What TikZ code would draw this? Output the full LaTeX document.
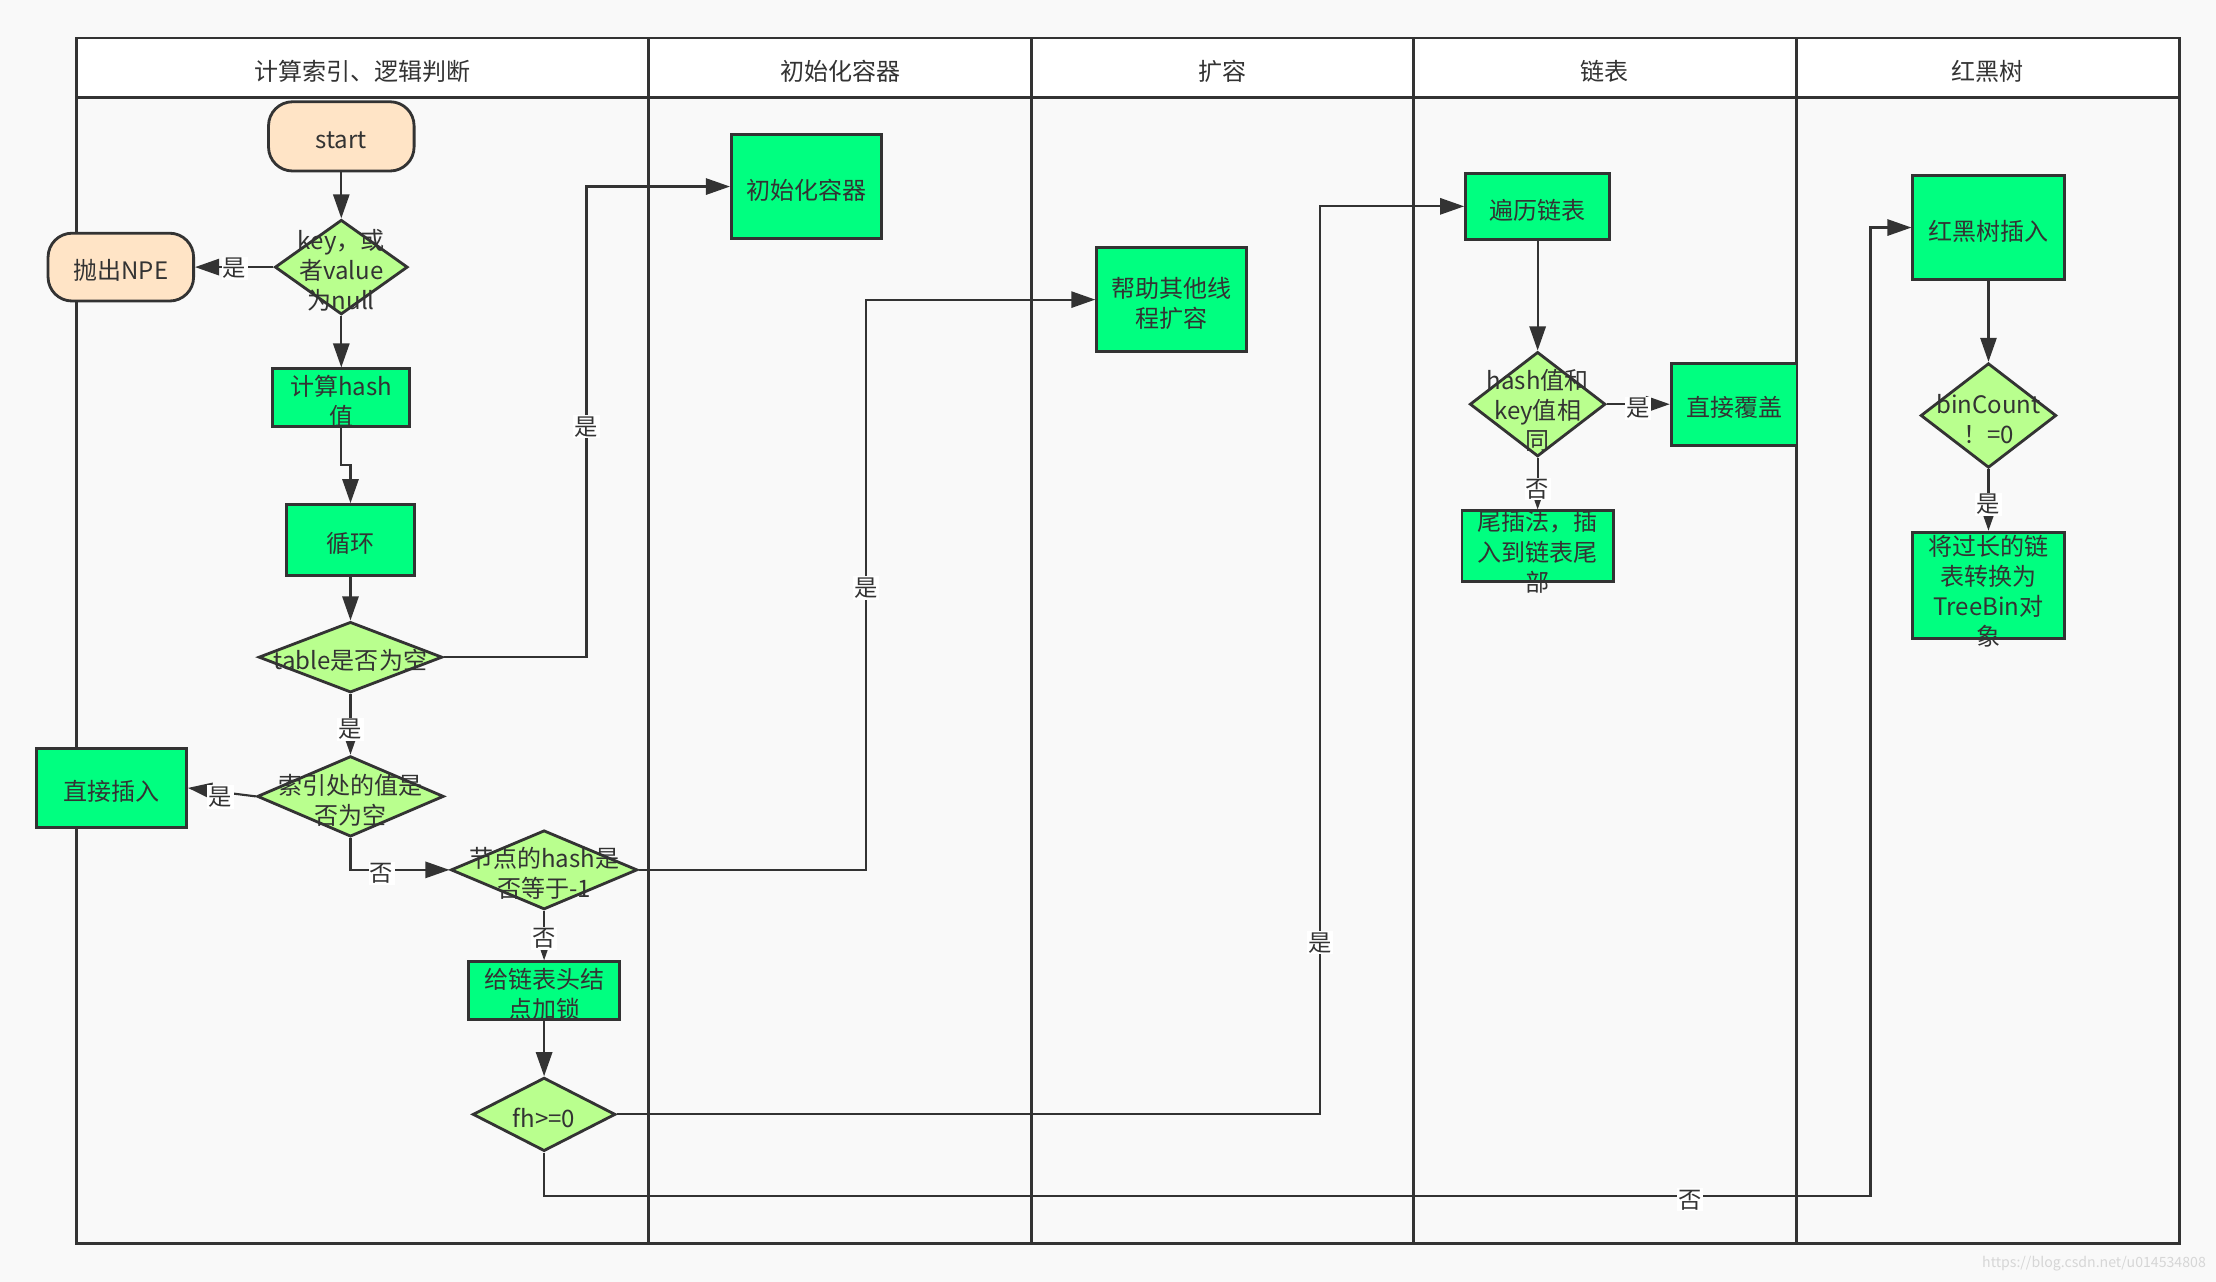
\documentclass[tikz,border=0pt]{standalone}
\usepackage{fontspec}
\setmainfont{Noto Sans CJK SC}
\usetikzlibrary{shapes.geometric,arrows.meta,calc}
\definecolor{bgc}{HTML}{F9F9F9}
\definecolor{lnc}{HTML}{333333}
\definecolor{boxg}{HTML}{00FF80}
\definecolor{diag}{HTML}{B9FF8E}
\definecolor{stad}{HTML}{FFE4C6}
\definecolor{wmc}{HTML}{D6D6D6}
\begin{document}
\begin{tikzpicture}[x=1pt,y=-1pt,
  lane/.style={draw=lnc, line width=1.8pt},
  procbox/.style={rectangle, draw=lnc, line width=2pt, fill=boxg, inner sep=0pt},
  decis/.style={diamond, draw=lnc, line width=2pt, fill=diag, inner sep=0pt, aspect=1},
  term/.style={rectangle, rounded corners=17pt, draw=lnc, line width=2pt, fill=stad, inner sep=0pt},
  tx/.style={align=center, inner sep=0pt, text=lnc, yshift=-2.5pt, font=\fontsize{17}{21.3}\selectfont},
  hd/.style={inner sep=0pt, text=lnc, yshift=-1.5pt, font=\fontsize{17}{21}\selectfont},
  lbl/.style={fill=white, inner sep=1pt, text=lnc, font=\fontsize{16.5}{18}\selectfont},
  arr/.style={draw=lnc, line width=1.5pt, -{Triangle[length=17pt,width=11.5pt]}},
]
% background and bounding box
\fill[bgc] (0,0) rectangle (1568,907);
\useasboundingbox (0,0) rectangle (1568,907);
% swimlanes
\fill[white] (54,27) rectangle (1542,69);
\draw[lane] (54,27) rectangle (1542,880);
\draw[lane] (54,69) -- (1542,69);
\foreach \xx in {459,730,1000,1271} \draw[lane] (\xx,27) -- (\xx,880);
\node[hd] (h1) at (256.5,49) {计算索引、逻辑判断};
\node[hd] (h2) at (594.5,49) {初始化容器};
\node[hd] (h3) at (865,49) {扩容};
\node[hd] (h4) at (1135.5,49) {链表};
\node[hd] (h5) at (1406.5,49) {红黑树};

% helper coordinates for routed connectors
\coordinate (ya) at (0,329);
\coordinate (yb) at (0,846);
\coordinate (xa) at (934,0);
\coordinate (xb) at (415,0);
\coordinate (xc) at (613,0);
\coordinate (xd) at (1323.5,0);

% shapes
\node[term, minimum width=103pt, minimum height=49pt] (start) at (241.5,96.5) {};
\node[term, minimum width=103pt, minimum height=48pt] (npe) at (85.5,189) {};
\node[decis, minimum width=94pt, minimum height=67pt] (d1) at (241.5,189) {};
\node[procbox, minimum width=97pt, minimum height=41pt] (hash) at (241.5,281.5) {};
\node[procbox, minimum width=91pt, minimum height=50pt] (loop) at (248,382) {};
\node[decis, minimum width=130pt, minimum height=50pt] (tbl) at (248,465) {};
\node[decis, minimum width=132pt, minimum height=57pt] (idx) at (248,563.5) {};
\node[procbox, minimum width=106pt, minimum height=56pt] (ins) at (79,557.5) {};
\node[decis, minimum width=132pt, minimum height=56pt] (nh) at (385,615.5) {};
\node[procbox, minimum width=107pt, minimum height=41pt] (lock) at (385,701) {};
\node[decis, minimum width=101pt, minimum height=52pt] (fh) at (385,788.5) {};
\node[procbox, minimum width=106pt, minimum height=74pt] (init) at (570.5,132) {};
\node[procbox, minimum width=106pt, minimum height=74pt] (help) at (829,212) {};
\node[procbox, minimum width=102pt, minimum height=47pt] (trav) at (1088,146) {};
\node[decis, minimum width=96pt, minimum height=74pt] (same) at (1088,286) {};
\node[procbox, minimum width=89pt, minimum height=58pt] (cover) at (1227,286) {};
\node[procbox, minimum width=107pt, minimum height=50pt] (tail) at (1088,386.5) {};
\node[procbox, minimum width=107pt, minimum height=74pt] (rbi) at (1407,161) {};
\node[decis, minimum width=96pt, minimum height=74pt] (bc) at (1407,294) {};
\node[procbox, minimum width=107pt, minimum height=75pt] (conv) at (1407,414) {};

% connectors
\draw[arr] (start.south) -- (d1.north);
\draw[arr] (d1.west) -- (npe.east);
\draw[arr] (d1.south) -- (hash.north);
\draw[arr] (hash.south) -- (hash.south |- ya) -| (loop.north);
\draw[arr] (loop.south) -- (tbl.north);
\draw[arr] (tbl.south) -- (idx.north);
\draw[arr] (idx.west) -- (ins.east);
\draw[arr] (idx.south) |- (nh.west);
\draw[arr] (nh.south) -- (lock.north);
\draw[arr] (lock.south) -- (fh.north);
\draw[arr] (tbl.east) -- (tbl.east -| xb) |- (init.west);
\draw[arr] (nh.east) -- (nh.east -| xc) |- (help.west);
\draw[arr] (fh.east) -- (fh.east -| xa) |- (trav.west);
\draw[arr] (fh.south) |- (xd |- yb) |- (rbi.west);
\draw[arr] (trav.south) -- (same.north);
\draw[arr] (same.east) -- (cover.west);
\draw[arr] (same.south) -- (tail.north);
\draw[arr] (rbi.south) -- (bc.north);
\draw[arr] (bc.south) -- (conv.north);

% texts
\node[tx] at (start) {start};
\node[tx] at (npe) {抛出NPE};
\node[tx] at (d1) {key，或\\者value\\为null};
\node[tx] at (hash) {计算hash\\值};
\node[tx] at (loop) {循环};
\node[tx] at (tbl) {table是否为空};
\node[tx] at (idx) {索引处的值是\\否为空};
\node[tx] at (ins) {直接插入};
\node[tx] at (nh) {节点的hash是\\否等于-1};
\node[tx] at (lock) {给链表头结\\点加锁};
\node[tx] at (fh) {fh>=0};
\node[tx] at (init) {初始化容器};
\node[tx] at (help) {帮助其他线\\程扩容};
\node[tx] at (trav) {遍历链表};
\node[tx] at ($(same)+(0,2)$) {hash值和\\key值相\\同};
\node[tx] at (cover) {直接覆盖};
\node[tx] at ($(tail)+(0,1.5)$) {尾插法，插\\入到链表尾\\部};
\node[tx] at (rbi) {红黑树插入};
\node[tx] at (bc) {binCount\\！=0};
\node[tx] at ($(conv)+(0,2)$) {将过长的链\\表转换为\\TreeBin对\\象};

% edge labels
\node[lbl] at (166,190) {是};
\node[lbl] at (248,516) {是};
\node[lbl] at (156,564) {是};
\node[lbl] at (270,618) {否};
\node[lbl] at (385,664) {否};
\node[lbl] at (415,302) {是};
\node[lbl] at (613,416) {是};
\node[lbl] at (934,667) {是};
\node[lbl] at (1196,849) {否};
\node[lbl] at (1159,289) {是};
\node[lbl] at (1088,346) {否};
\node[lbl] at (1407,357) {是};

% watermark
\node[anchor=east, inner sep=0pt, text=wmc, font=\fontsize{10}{12}\selectfont] at (1561,894) {https://blog.csdn.net/u014534808};
\end{tikzpicture}
\end{document}
